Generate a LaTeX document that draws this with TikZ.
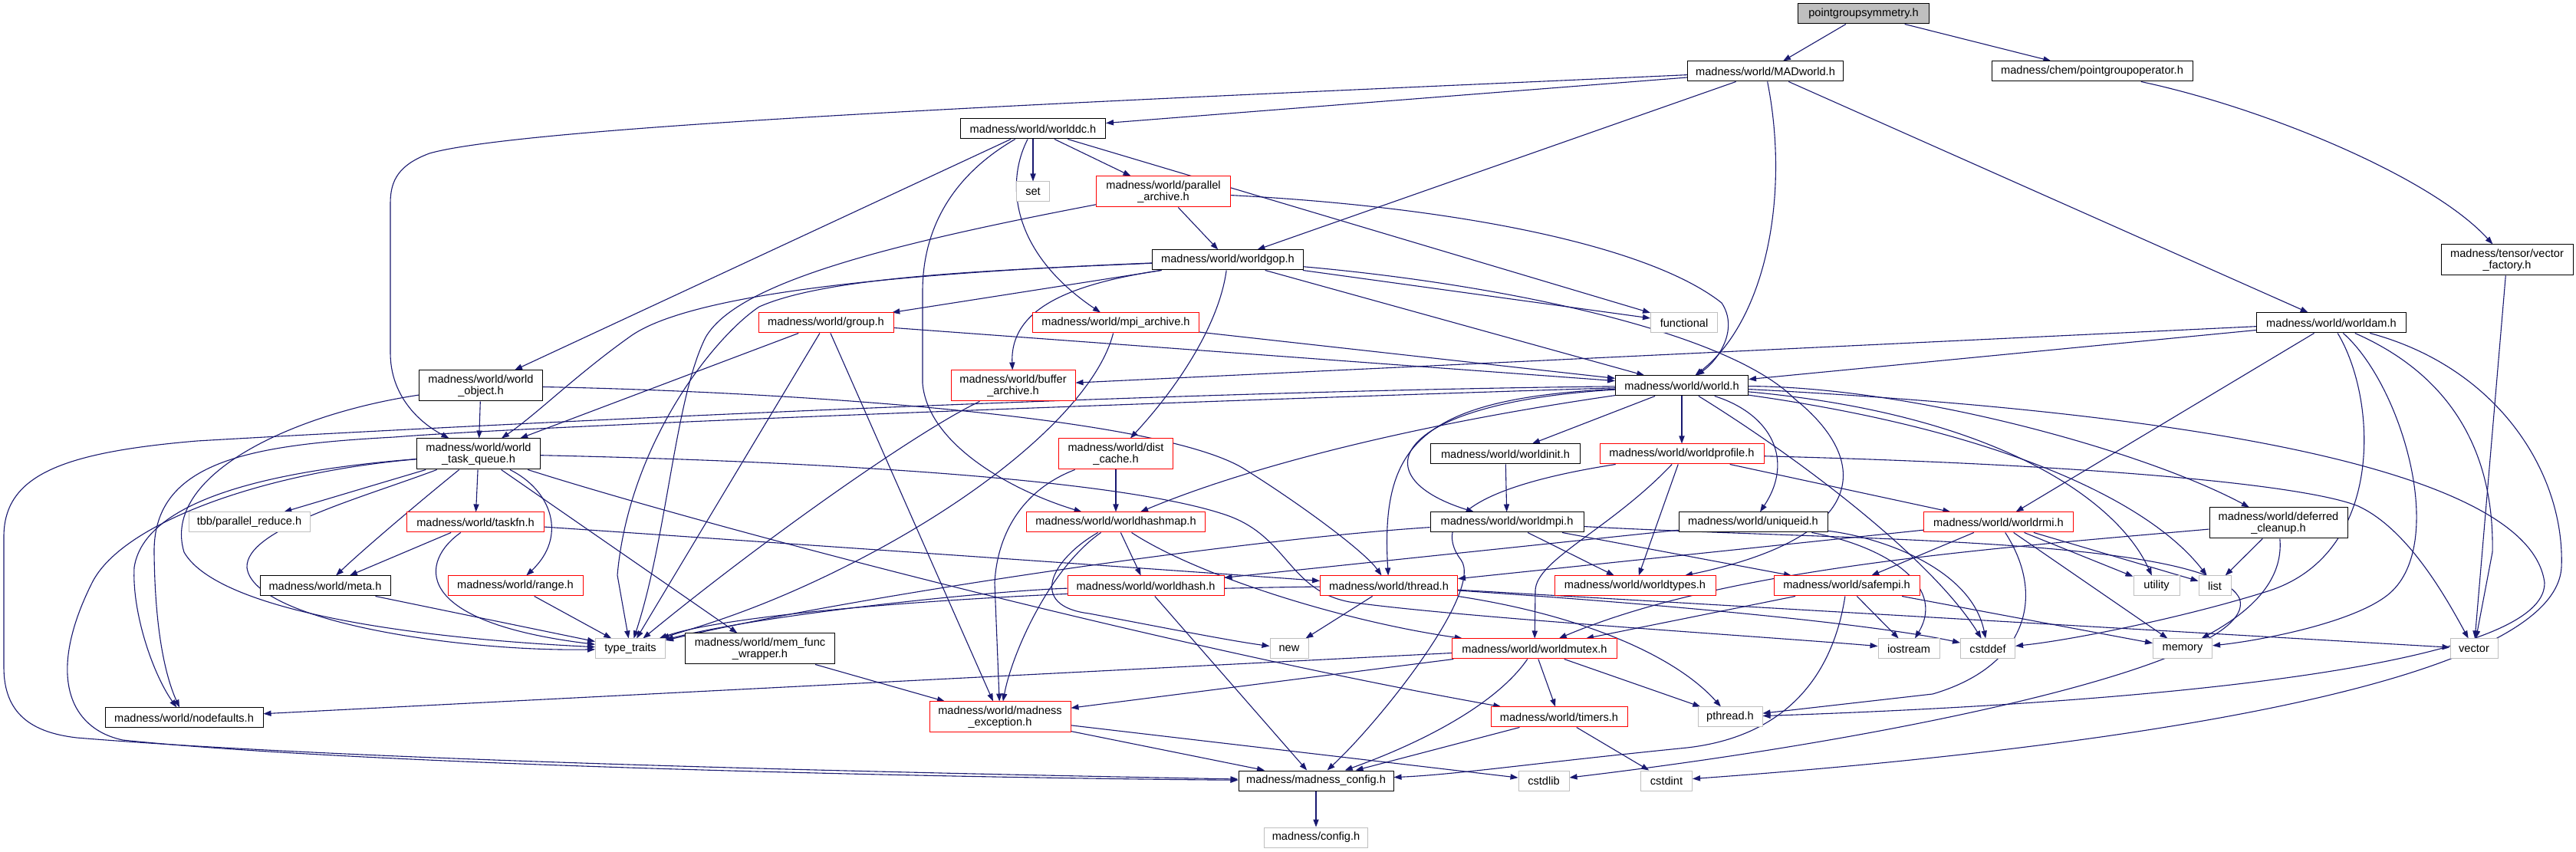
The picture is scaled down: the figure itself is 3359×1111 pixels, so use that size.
\documentclass[tikz,border=0pt]{standalone}
\usepackage{fontspec}
\setmainfont{Liberation Sans}
\usetikzlibrary{arrows.meta,backgrounds}
\definecolor{edgec}{HTML}{191970}
\definecolor{greyc}{HTML}{BFBFBF}
\newcommand\lblfont{\fontsize{7.3pt}{7.6pt}\selectfont}
\newcommand\mk[7]{\node[#1, minimum width=#5*0.5pt, minimum height=#6*0.5pt] (#2) at (#3,#4) {#7};}
\begin{document}
\begin{tikzpicture}[x=0.5pt,y=-0.5pt,
 nb/.style={draw=black, line width=0.5pt, fill=white, inner sep=0pt, font=\lblfont, align=center, text=black},
 nr/.style={nb, draw=red},
 ng/.style={nb, draw=greyc},
 nroot/.style={nb, fill=greyc},
 e/.style={draw=edgec, line width=0.55pt, -{Triangle[length=5pt,width=3.6pt]}}]
\useasboundingbox (0,0) rectangle (3359,1111);
% nodes
\mk{nroot}{PGS}{2430}{18}{171}{26}{pointgroupsymmetry.h}
\mk{nb}{MAD}{2302}{93}{203}{26}{madness/world/MADworld.h}
\mk{nb}{PGO}{2728}{93}{262}{26}{madness/chem/pointgroupoperator.h}
\mk{nb}{WDC}{1347}{168}{189}{26}{madness/world/worlddc.h}
\mk{ng}{SETN}{1347}{250}{43}{26}{set}
\mk{nr}{PA}{1517}{250}{175}{40}{madness/world/parallel\\\_archive.h}
\mk{nb}{GOP}{1601}{339}{197}{26}{madness/world/worldgop.h}
\mk{nb}{VF}{3269}{339}{172}{40}{madness/tensor/vector\\\_factory.h}
\mk{nr}{GRP}{1077}{421}{176}{26}{madness/world/group.h}
\mk{nr}{MPA}{1455}{421}{217}{26}{madness/world/mpi\_archive.h}
\mk{ng}{FUN}{2196}{421}{87}{26}{functional}
\mk{nb}{WAM}{3040}{421}{195}{26}{madness/world/worldam.h}
\mk{nb}{WO}{627}{503}{161}{40}{madness/world/world\\\_object.h}
\mk{nr}{BA}{1321}{503}{162}{40}{madness/world/buffer\\\_archive.h}
\mk{nb}{WLD}{2193}{503}{173}{26}{madness/world/world.h}
\mk{nb}{WTQ}{624}{592}{161}{40}{madness/world/world\\\_task\_queue.h}
\mk{nr}{DC}{1455}{592}{149}{40}{madness/world/dist\\\_cache.h}
\mk{nb}{WINIT}{1963}{592}{195}{26}{madness/world/worldinit.h}
\mk{nr}{WPROF}{2193}{592}{214}{26}{madness/world/worldprofile.h}
\mk{ng}{TBB}{325}{681}{158}{26}{tbb/parallel\_reduce.h}
\mk{nr}{TFN}{620}{681}{179}{26}{madness/world/taskfn.h}
\mk{nr}{WHM}{1455}{681}{233}{26}{madness/world/worldhashmap.h}
\mk{nb}{WMPI}{1965}{681}{200}{26}{madness/world/worldmpi.h}
\mk{nb}{UID}{2286}{681}{194}{26}{madness/world/uniqueid.h}
\mk{nr}{WRMI}{2606}{681}{195}{26}{madness/world/worldrmi.h}
\mk{nb}{DCL}{2971}{682}{180}{40}{madness/world/deferred\\\_cleanup.h}
\mk{nb}{META}{424}{764}{170}{26}{madness/world/meta.h}
\mk{nr}{RANGE}{672}{764}{176}{26}{madness/world/range.h}
\mk{nr}{WHASH}{1494}{764}{204}{26}{madness/world/worldhash.h}
\mk{nr}{THR}{1811}{764}{179}{26}{madness/world/thread.h}
\mk{nr}{WTYP}{2132}{764}{210}{26}{madness/world/worldtypes.h}
\mk{nr}{SMPI}{2408}{764}{190}{26}{madness/world/safempi.h}
\mk{ng}{UTIL}{2812}{764}{60}{26}{utility}
\mk{ng}{LIST}{2888}{764}{42}{26}{list}
\mk{ng}{TT}{822}{846}{91}{26}{type\_traits}
\mk{nb}{MFW}{991}{846}{195}{40}{madness/world/mem\_func\\\_wrapper.h}
\mk{ng}{NEW}{1681}{846}{50}{26}{new}
\mk{nr}{WMUT}{2001}{846}{215}{26}{madness/world/worldmutex.h}
\mk{ng}{IOS}{2489}{846}{80}{26}{iostream}
\mk{ng}{CDEF}{2592}{846}{71}{26}{cstddef}
\mk{ng}{MEM}{2846}{846}{77}{26}{memory}
\mk{ng}{VEC}{3226}{846}{62}{26}{vector}
\mk{nb}{NODEF}{240}{936}{206}{26}{madness/world/nodefaults.h}
\mk{nr}{MEXC}{1304}{935}{184}{40}{madness/world/madness\\\_exception.h}
\mk{nr}{TIM}{2033}{935}{178}{26}{madness/world/timers.h}
\mk{ng}{PTH}{2256}{935}{84}{26}{pthread.h}
\mk{nb}{MCFG}{1716}{1018}{202}{26}{madness/madness\_config.h}
\mk{ng}{CLIB}{2013}{1018}{66}{26}{cstdlib}
\mk{ng}{CINT}{2173}{1018}{67}{26}{cstdint}
\mk{ng}{CFG}{1716}{1092}{135}{26}{madness/config.h}
% edges
\begin{scope}[on background layer]
\fill[white] (0,0) rectangle (3359,1111);
\draw[e] (PGS) -- (MAD);
\draw[e] (PGS) -- (PGO);
\draw[e] (PGO) .. controls (2950,140) and (3170,230) .. (VF);
\draw[e] (VF) -- (VEC);
\draw[e] (MAD) -- (WDC);
\draw[e] (MAD) .. controls (1600,125) and (700,160) .. (560,200) .. controls (520,215) and (509,235) .. (509,265) -- (509,460) .. controls (509,515) and (545,550) .. (WTQ);
\draw[e] (MAD) -- (GOP);
\draw[e] (MAD) .. controls (2335,260) and (2300,420) .. (WLD);
\draw[e] (MAD) -- (WAM);
\draw[e] (WDC) -- (SETN);
\draw[e] (WDC) -- (PA);
\draw[e] (WDC) -- (FUN);
\draw[e] (WDC) -- (WO);
\draw[e] (WDC) .. controls (1240,230) and (1203,300) .. (1203,380) -- (1203,500) .. controls (1210,580) and (1320,640) .. (WHM);
\draw[e] (WDC) .. controls (1310,240) and (1320,330) .. (MPA);
\draw[e] (PA) -- (GOP);
\draw[e] (PA) .. controls (1150,320) and (960,370) .. (920,440) .. controls (880,520) and (870,700) .. (TT);
\draw[e] (PA) .. controls (1900,270) and (2150,320) .. (2245,395) .. controls (2268,430) and (2240,470) .. (WLD);
\draw[e] (GOP) -- (FUN);
\draw[e] (GOP) -- (WLD);
\draw[e] (GOP) .. controls (1200,355) and (900,380) .. (820,440) .. controls (750,490) and (700,540) .. (WTQ);
\draw[e] (GOP) -- (GRP);
\draw[e] (GOP) .. controls (1400,370) and (1317,400) .. (BA);
\draw[e] (GOP) .. controls (1590,420) and (1540,500) .. (DC);
\draw[e] (GOP) .. controls (1300,352) and (1080,360) .. (990,400) .. controls (930,440) and (820,580) .. (805,750) -- (TT);
\draw[e] (GOP) .. controls (1950,370) and (2250,430) .. (2340,520) .. controls (2440,600) and (2440,700) .. (WTYP);
\draw[e] (GRP) -- (WLD);
\draw[e] (GRP) -- (WTQ);
\draw[e] (GRP) -- (TT);
\draw[e] (GRP) -- (MEXC);
\draw[e] (MPA) -- (WLD);
\draw[e] (MPA) .. controls (1430,520) and (1300,640) .. (1100,740) .. controls (980,800) and (900,820) .. (TT);
\draw[e] (WAM) -- (WLD);
\draw[e] (WAM) -- (BA);
\draw[e] (WAM) -- (WRMI);
\draw[e] (WAM) .. controls (3100,520) and (3110,720) .. (2960,770) .. controls (2850,805) and (2700,835) .. (CDEF);
\draw[e] (WAM) .. controls (3130,500) and (3190,700) .. (3120,770) .. controls (3080,810) and (2950,835) .. (MEM);
\draw[e] (WAM) .. controls (3220,500) and (3252,620) .. (3250,720) -- (VEC);
\draw[e] (WAM) .. controls (3260,480) and (3345,620) .. (3340,740) .. controls (3330,900) and (2700,980) .. (CINT);
\draw[e] (WO) -- (WTQ);
\draw[e] (WO) .. controls (380,540) and (210,620) .. (240,720) .. controls (280,790) and (500,830) .. (TT);
\draw[e] (WO) .. controls (1000,510) and (1500,540) .. (1620,610) .. controls (1700,660) and (1780,720) .. (THR);
\draw[e] (BA) .. controls (1200,560) and (1000,700) .. (TT);
\draw[e] (WLD) -- (WINIT);
\draw[e] (WLD) -- (WPROF);
\draw[e] (WLD) .. controls (1820,525) and (1770,620) .. (WMPI);
\draw[e] (WLD) .. controls (2310,540) and (2340,600) .. (UID);
\draw[e] (WLD) .. controls (1800,560) and (1600,620) .. (WHM);
\draw[e] (WLD) .. controls (1850,520) and (1800,580) .. (THR);
\draw[e] (WLD) .. controls (1500,525) and (700,555) .. (514,570) .. controls (330,580) and (200,600) .. (201,720) .. controls (202,820) and (215,880) .. (NODEF);
\draw[e] (WLD) .. controls (1500,510) and (600,555) .. (257,575) .. controls (80,590) and (5,620) .. (5,700) -- (5,870) .. controls (5,930) and (40,955) .. (100,962) .. controls (500,995) and (1300,1010) .. (MCFG);
\draw[e] (WLD) .. controls (2350,600) and (2520,730) .. (CDEF);
\draw[e] (WLD) .. controls (2500,505) and (2800,590) .. (DCL);
\draw[e] (WLD) .. controls (2600,540) and (2760,650) .. (UTIL);
\draw[e] (WLD) .. controls (2600,560) and (2800,650) .. (LIST);
\draw[e] (WLD) .. controls (2900,540) and (3300,620) .. (3318,760) .. controls (3320,880) and (2700,920) .. (PTH);
\draw[e] (WPROF) -- (WRMI);
\draw[e] (WPROF) .. controls (2700,605) and (3000,630) .. (3075,660) .. controls (3140,690) and (3190,780) .. (VEC);
\draw[e] (WPROF) -- (WTYP);
\draw[e] (WPROF) .. controls (2100,690) and (2003,730) .. (2002,770) -- (WMUT);
\draw[e] (WPROF) .. controls (1950,630) and (1860,670) .. (1905,730) .. controls (1935,770) and (1800,940) .. (MCFG);
\draw[e] (WINIT) -- (WMPI);
\draw[e] (WMPI) -- (WTYP);
\draw[e] (WMPI) -- (SMPI);
\draw[e] (WMPI) .. controls (1600,705) and (1100,780) .. (TT);
\draw[e] (WMPI) .. controls (2400,705) and (2880,700) .. (2920,780) .. controls (2950,860) and (2500,960) .. (CLIB);
\draw[e] (UID) -- (WHASH);
\draw[e] (UID) .. controls (2450,710) and (2540,760) .. (IOS);
\draw[e] (UID) .. controls (2450,700) and (2570,740) .. (CDEF);
\draw[e] (WRMI) -- (THR);
\draw[e] (WRMI) -- (SMPI);
\draw[e] (WRMI) -- (UTIL);
\draw[e] (WRMI) -- (LIST);
\draw[e] (WRMI) -- (MEM);
\draw[e] (WRMI) .. controls (2670,780) and (2640,870) .. (2520,905) -- (PTH);
\draw[e] (DCL) .. controls (2600,715) and (2250,740) .. (WMUT);
\draw[e] (DCL) -- (LIST);
\draw[e] (DCL) .. controls (2978,760) and (2930,800) .. (MEM);
\draw[e] (WTQ) -- (TBB);
\draw[e] (WTQ) -- (TFN);
\draw[e] (WTQ) .. controls (540,660) and (470,720) .. (META);
\draw[e] (WTQ) .. controls (720,640) and (740,700) .. (RANGE);
\draw[e] (WTQ) .. controls (470,650) and (320,690) .. (322,740) .. controls (330,810) and (600,850) .. (TT);
\draw[e] (WTQ) .. controls (400,610) and (190,640) .. (175,740) .. controls (172,800) and (200,880) .. (NODEF);
\draw[e] (WTQ) .. controls (350,615) and (160,680) .. (120,760) .. controls (60,880) and (90,950) .. (160,965) .. controls (500,1000) and (1300,1015) .. (MCFG);
\draw[e] (WTQ) -- (MFW);
\draw[e] (WTQ) .. controls (900,680) and (1500,840) .. (TIM);
\draw[e] (WTQ) .. controls (1000,600) and (1450,620) .. (1600,672) .. controls (1680,700) and (1680,770) .. (1760,785) .. controls (1900,805) and (2300,830) .. (IOS);
\draw[e] (TFN) -- (META);
\draw[e] (TFN) .. controls (550,730) and (530,810) .. (TT);
\draw[e] (TFN) .. controls (900,700) and (1550,745) .. (THR);
\draw[e] (META) -- (TT);
\draw[e] (RANGE) -- (TT);
\draw[e] (DC) -- (WHM);
\draw[e] (DC) .. controls (1330,640) and (1300,700) .. (1297,760) -- (MEXC);
\draw[e] (WHM) -- (WHASH);
\draw[e] (WHM) .. controls (1370,740) and (1320,850) .. (MEXC);
\draw[e] (WHM) .. controls (1370,730) and (1340,790) .. (1420,800) .. controls (1500,815) and (1600,835) .. (NEW);
\draw[e] (WHM) .. controls (1560,750) and (1750,810) .. (WMUT);
\draw[e] (WHASH) .. controls (1300,770) and (1000,800) .. (TT);
\draw[e] (WHASH) -- (MCFG);
\draw[e] (THR) .. controls (1300,770) and (950,800) .. (TT);
\draw[e] (THR) -- (NEW);
\draw[e] (THR) .. controls (2200,790) and (2450,815) .. (CDEF);
\draw[e] (THR) -- (VEC);
\draw[e] (THR) .. controls (2050,800) and (2180,850) .. (PTH);
\draw[e] (SMPI) -- (WMUT);
\draw[e] (SMPI) -- (IOS);
\draw[e] (SMPI) .. controls (2390,880) and (2330,960) .. (2200,975) .. controls (2000,995) and (1900,1010) .. (MCFG);
\draw[e] (SMPI) -- (MEM);
\draw[e] (WMUT) -- (NODEF);
\draw[e] (WMUT) -- (MEXC);
\draw[e] (WMUT) -- (TIM);
\draw[e] (WMUT) -- (PTH);
\draw[e] (WMUT) .. controls (1950,920) and (1850,970) .. (MCFG);
\draw[e] (MFW) -- (MEXC);
\draw[e] (MEXC) -- (MCFG);
\draw[e] (MEXC) -- (CLIB);
\draw[e] (TIM) -- (MCFG);
\draw[e] (TIM) -- (CINT);
\draw[e] (MCFG) -- (CFG);
\end{scope}
\end{tikzpicture}
\end{document}
